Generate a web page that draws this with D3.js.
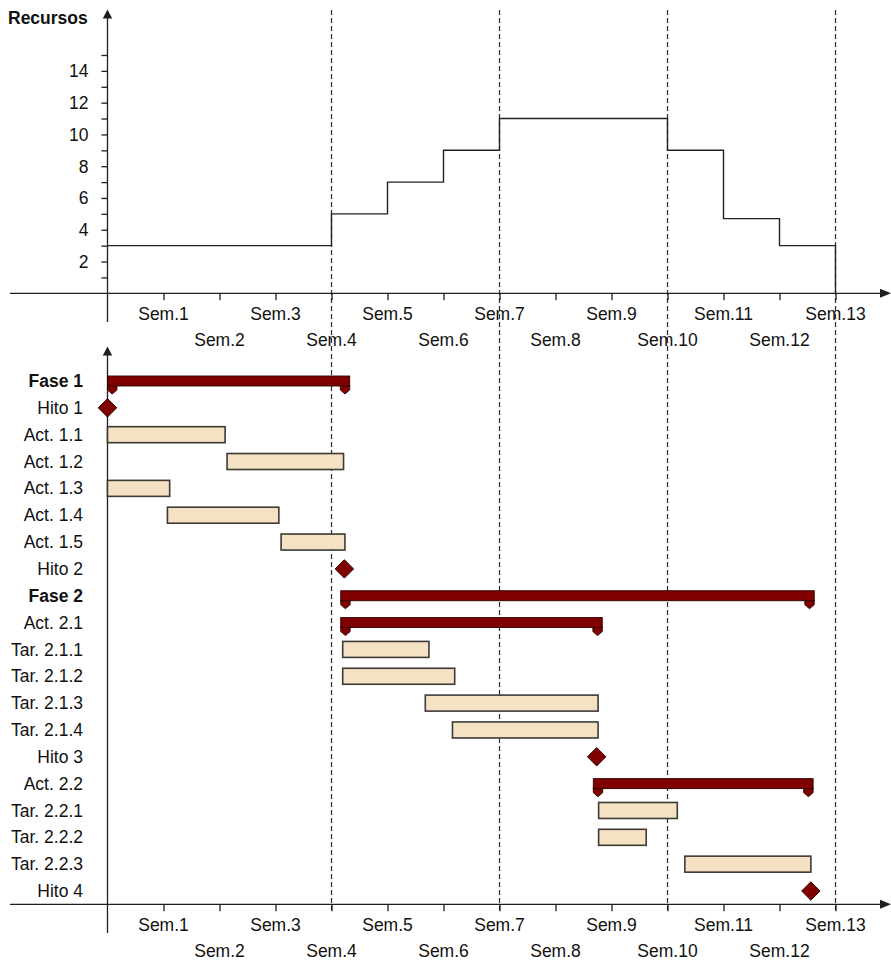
<!DOCTYPE html>
<html>
<head>
<meta charset="utf-8">
<script src="https://cdn.jsdelivr.net/npm/d3@7"></script>
<style>
  html, body { margin: 0; padding: 0; background: #ffffff; }
  svg { display: block; font-family: "Liberation Sans", Arial, Helvetica, sans-serif; }
</style>
</head>
<body>
<svg id="chart" width="891" height="965"></svg>
<script>
// ---------------- DATA ----------------
const weekTicks = [1, 2, 3, 4, 5, 6, 7, 8, 9, 10, 11, 12, 13];
const weekLabels = ["Sem.1", "Sem.2", "Sem.3", "Sem.4", "Sem.5", "Sem.6", "Sem.7",
                    "Sem.8", "Sem.9", "Sem.10", "Sem.11", "Sem.12", "Sem.13"];
const phaseBoundaries = [4, 7, 10, 13];

const resourceTicks = [1, 2, 3, 4, 5, 6, 7, 8, 9, 10, 11, 12, 13, 14, 15];
const resourceTickLabels = ["", "2", "", "4", "", "6", "", "8", "", "10", "", "12", "", "14", ""];
const resourceBreaks = [0, 4, 5, 6, 7, 10, 11, 12, 13];
const resourceValues = [3, 5, 7, 9, 11, 9, 4.7, 3];

const taskNames = ["Fase 1", "Hito 1", "Act. 1.1", "Act. 1.2", "Act. 1.3", "Act. 1.4", "Act. 1.5",
                   "Hito 2", "Fase 2", "Act. 2.1", "Tar. 2.1.1", "Tar. 2.1.2", "Tar. 2.1.3",
                   "Tar. 2.1.4", "Hito 3", "Act. 2.2", "Tar. 2.2.1", "Tar. 2.2.2", "Tar. 2.2.3", "Hito 4"];
const taskTypes = ["summary", "milestone", "task", "task", "task", "task", "task",
                   "milestone", "summary", "summary", "task", "task", "task",
                   "task", "milestone", "summary", "task", "task", "task", "milestone"];
const taskBold = [true, false, false, false, false, false, false,
                  false, true, false, false, false, false,
                  false, false, false, false, false, false, false];
const taskStart = [0, 0, 0, 2.135, 0, 1.07, 3.10,
                   4.23, 4.165, 4.165, 4.20, 4.20, 5.675,
                   6.16, 8.735, 8.675, 8.77, 8.77, 10.31, 12.56];
const taskEnd = [4.325, 0, 2.10, 4.215, 1.11, 3.06, 4.24,
                 4.23, 12.62, 8.835, 5.74, 6.20, 8.76,
                 8.76, 8.735, 12.60, 10.175, 9.62, 12.56, 12.56];

// ---------------- LAYOUT ----------------
const svg = d3.select("#chart");
const FONT = 17.5;
const axisColor = "#1e1e1e";
const darkRed = "#800000";
const darkRedStroke = "#2b0000";
const tan = "#f5e1c3";
const tanStroke = "#3d3a36";

const x = d3.scaleLinear().domain([0, 13]).range([107.5, 835.5]);
const yRes = d3.scaleLinear().domain([0, 15]).range([293.3, 55]);
const yRow = d3.scalePoint().domain(taskNames).range([381, 891]);

const topAxisY = yRes(0);
const botAxisY = 904.3;

// ---------------- DASHED PHASE LINES ----------------
svg.append("g").selectAll("line").data(phaseBoundaries).join("line")
  .attr("x1", d => x(d)).attr("x2", d => x(d))
  .attr("y1", 10).attr("y2", 910)
  .attr("stroke", "#2a2a2a").attr("stroke-width", 1.2)
  .attr("stroke-dasharray", "5,3");

// ---------------- helpers ----------------
function drawXAxis(yPos, yAxisTop, yAxisBottom) {
  const g = svg.append("g");
  // horizontal axis line
  g.append("line").attr("x1", 10).attr("x2", 882).attr("y1", yPos).attr("y2", yPos)
    .attr("stroke", axisColor).attr("stroke-width", 1.3);
  g.append("path")
    .attr("d", `M891,${yPos} L880,${yPos - 4.5} L880,${yPos + 4.5} Z`)
    .attr("fill", axisColor);
  // ticks via d3 axis
  const ax = g.append("g").attr("transform", `translate(0,${yPos})`)
    .call(d3.axisBottom(x).tickValues(weekTicks).tickSize(7).tickFormat(""));
  ax.select(".domain").remove();
  ax.selectAll(".tick line").attr("stroke", axisColor).attr("stroke-width", 1.3);
  // labels, alternating rows
  g.selectAll("text.wk").data(weekTicks).join("text")
    .attr("class", "wk")
    .attr("x", d => x(d))
    .attr("y", (d, i) => yPos + (i % 2 === 0 ? 27 : 52.5))
    .attr("text-anchor", "middle")
    .attr("font-size", FONT)
    .attr("fill", "#111")
    .text((d, i) => weekLabels[i]);
  // vertical axis line
  g.append("line").attr("x1", x(0)).attr("x2", x(0)).attr("y1", yAxisTop + 6).attr("y2", yAxisBottom)
    .attr("stroke", axisColor).attr("stroke-width", 1.3);
  g.append("path")
    .attr("d", `M${x(0)},${yAxisTop} L${x(0) - 4.7},${yAxisTop + 9} L${x(0) + 4.7},${yAxisTop + 9} Z`)
    .attr("fill", axisColor);
}

// ---------------- TOP CHART: RESOURCES ----------------
drawXAxis(topAxisY, 9.5, 322);

const yAx = svg.append("g").attr("transform", `translate(${x(0)},0)`)
  .call(d3.axisLeft(yRes).tickValues(resourceTicks).tickSize(6)
    .tickFormat((d, i) => resourceTickLabels[i]));
yAx.select(".domain").remove();
yAx.selectAll(".tick line").attr("stroke", axisColor).attr("stroke-width", 1.3);
yAx.selectAll(".tick text")
  .attr("font-size", FONT).attr("font-family", null).attr("fill", "#111")
  .attr("x", -19).attr("dy", "0.34em");

svg.append("text")
  .attr("x", 8).attr("y", 24)
  .attr("font-size", FONT).attr("font-weight", "bold").attr("fill", "#111")
  .text("Recursos");

// step line
const stepPts = [];
resourceValues.forEach((v, i) => {
  stepPts.push([resourceBreaks[i], v]);
  stepPts.push([resourceBreaks[i + 1], v]);
});
stepPts.push([resourceBreaks[resourceBreaks.length - 1], 0]);
const stepLine = d3.line().x(d => x(d[0])).y(d => yRes(d[1]));
svg.append("path")
  .attr("d", stepLine(stepPts))
  .attr("fill", "none").attr("stroke", "#222").attr("stroke-width", 1.4);

// ---------------- BOTTOM CHART: GANTT ----------------
drawXAxis(botAxisY, 346.5, 933);

// row labels
svg.append("g").selectAll("text").data(taskNames).join("text")
  .attr("x", 83)
  .attr("y", d => yRow(d))
  .attr("dy", "0.35em")
  .attr("text-anchor", "end")
  .attr("font-size", FONT)
  .attr("font-weight", (d, i) => taskBold[i] ? "bold" : "normal")
  .attr("fill", "#111")
  .text(d => d);

const rows = taskNames.map((n, i) => ({ name: n, type: taskTypes[i], s: taskStart[i], e: taskEnd[i] }));

// normal tasks
svg.append("g").selectAll("rect").data(rows.filter(r => r.type === "task")).join("rect")
  .attr("x", d => x(d.s))
  .attr("y", d => yRow(d.name) - 8)
  .attr("width", d => x(d.e) - x(d.s))
  .attr("height", 16)
  .attr("fill", tan)
  .attr("stroke", tanStroke)
  .attr("stroke-width", 1.6);

// summary bars
const sumG = svg.append("g").selectAll("g").data(rows.filter(r => r.type === "summary")).join("g");
function capPath(cx0, top) {
  const w = 9.4;
  return `M${cx0},${top} L${cx0 + w},${top} L${cx0 + w},${top + 5} L${cx0 + w / 2},${top + 9} L${cx0},${top + 5} Z`;
}
sumG.append("path")
  .attr("d", d => capPath(x(d.s), yRow(d.name) + 4))
  .attr("fill", darkRed).attr("stroke", darkRedStroke).attr("stroke-width", 0.9);
sumG.append("path")
  .attr("d", d => capPath(x(d.e) - 9.4, yRow(d.name) + 4))
  .attr("fill", darkRed).attr("stroke", darkRedStroke).attr("stroke-width", 0.9);
sumG.append("rect")
  .attr("x", d => x(d.s))
  .attr("y", d => yRow(d.name) - 5)
  .attr("width", d => x(d.e) - x(d.s))
  .attr("height", 10)
  .attr("fill", darkRed).attr("stroke", darkRedStroke).attr("stroke-width", 0.9);

// milestones
svg.append("g").selectAll("path").data(rows.filter(r => r.type === "milestone")).join("path")
  .attr("d", d => {
    const cx = x(d.s), cy = yRow(d.name), r = 9.2;
    return `M${cx},${cy - r} L${cx + r},${cy} L${cx},${cy + r} L${cx - r},${cy} Z`;
  })
  .attr("fill", darkRed).attr("stroke", darkRedStroke).attr("stroke-width", 1);
</script>
</body>
</html>
